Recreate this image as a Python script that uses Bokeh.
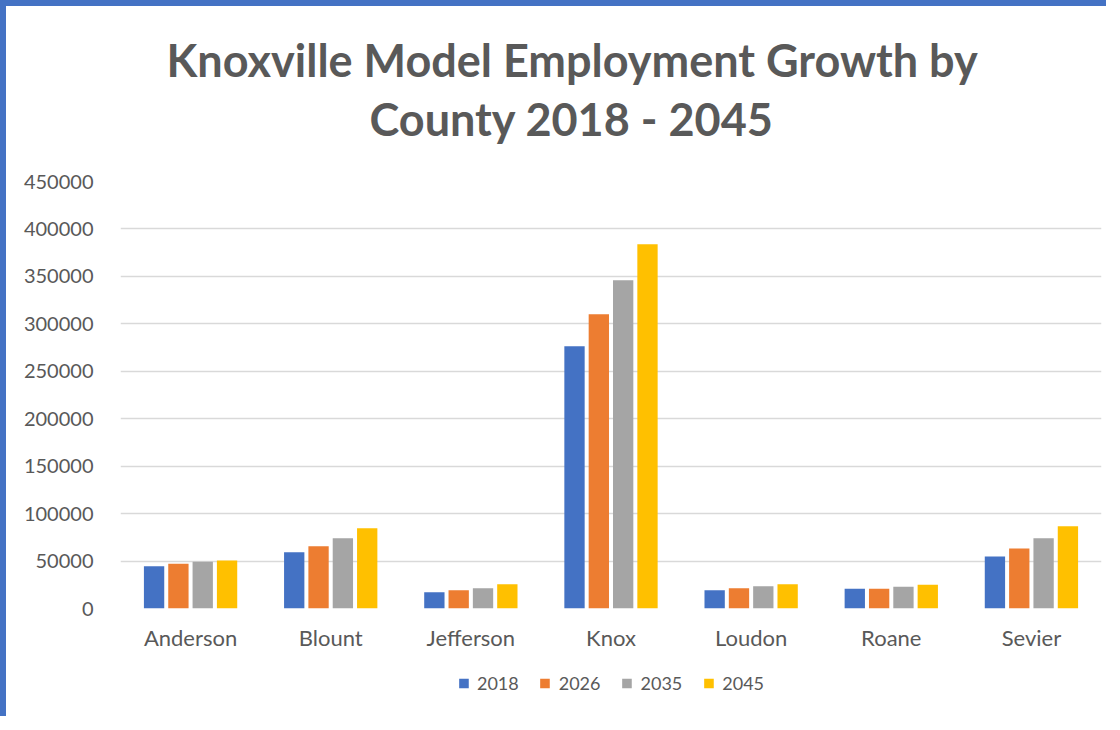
from bokeh.plotting import figure
from bokeh.layouts import column
from bokeh.models import (FactorRange, ColumnDataSource, Legend, LegendItem, Title,
                          SingleIntervalTicker, NumeralTickFormatter)
from bokeh.transform import dodge
from bokeh.embed import file_html
from bokeh.resources import INLINE

counties = ["Anderson", "Blount", "Jefferson", "Knox", "Loudon", "Roane", "Sevier"]
years = ["2018", "2026", "2035", "2045"]
emp_2018 = [44600, 59300, 17200, 276400, 19300, 20800, 54800]
emp_2026 = [47100, 65700, 19300, 310200, 21400, 20800, 63200]
emp_2035 = [49200, 74100, 21400, 346000, 23500, 22900, 74100]
emp_2045 = [50600, 84600, 25600, 384000, 25600, 25000, 86700]
colors = ["#4472C4", "#ED7D31", "#A5A5A5", "#FFC000"]

TEXT = "#595959"
FONT = "Lato"
BLUE_EDGE = "6px solid #4472C4"
W = 1106
H1, H2 = 649, 67

source = ColumnDataSource(dict(county=counties, y2018=emp_2018, y2026=emp_2026,
                               y2035=emp_2035, y2045=emp_2045))
fields = ["y2018", "y2026", "y2035", "y2045"]
slot = 0.1736
offsets = [-1.5 * slot, -0.5 * slot, 0.5 * slot, 1.5 * slot]

# ---------------- main chart ----------------
p = figure(x_range=FactorRange(*counties), y_range=(0, 450000),
           width=W, height=H1, output_backend="svg", toolbar_location=None,
           min_border_left=114, min_border_right=11, min_border_top=175,
           min_border_bottom=47)
p.background_fill_color = "white"
p.border_fill_color = "white"
p.outline_line_color = None
p.styles = {"border-left": BLUE_EDGE, "border-top": BLUE_EDGE}

for fld, off, col in zip(fields, offsets, colors):
    p.vbar(x=dodge("county", off, range=p.x_range), top=fld, width=0.145,
           source=source, fill_color=col, line_color=None)

p.yaxis.ticker = SingleIntervalTicker(interval=50000)
p.yaxis.formatter = NumeralTickFormatter(format="0")
for ax in (p.xaxis, p.yaxis):
    ax.axis_line_color = None
    ax.major_tick_line_color = None
    ax.minor_tick_line_color = None
    ax.major_label_text_font = FONT
    ax.major_label_text_color = TEXT
p.yaxis.major_label_text_font_size = "20px"
p.xaxis.major_label_text_font_size = "22px"
p.yaxis.major_label_standoff = 21
p.xaxis.major_label_standoff = 9
p.xgrid.grid_line_color = None
p.ygrid.grid_line_color = "#D9D9D9"
p.ygrid.grid_line_width = 1.5

# titles: stacked outward from the frame (spacer first)
spacer = Title(text=" ", text_font_size="10px", standoff=22)
t2 = Title(text="County 2018 - 2045", align="left", offset=249, text_font=FONT,
           text_font_size="45px", text_font_style="bold", text_color=TEXT,
           standoff=2)
t1 = Title(text="Knoxville Model Employment Growth by", align="left", offset=46,
           text_font=FONT, text_font_size="45px", text_font_style="bold",
           text_color=TEXT, standoff=3)
p.add_layout(spacer, "above")
p.add_layout(t2, "above")
p.add_layout(t1, "above")

# ---------------- legend strip ----------------
# same series, drawn in a y-window above the data so only the legend shows
p2 = figure(x_range=FactorRange(*counties), y_range=(500000, 600000),
            x_axis_type=None, y_axis_type=None, width=W, height=H2,
            output_backend="svg", toolbar_location=None,
            min_border_left=28, min_border_right=0, min_border_top=0,
            min_border_bottom=0)
p2.grid.grid_line_color = None
p2.outline_line_color = None
p2.background_fill_color = "white"
p2.border_fill_color = "white"
p2.styles = {"border-left": BLUE_EDGE}

items = []
for yr, fld, off, col in zip(years, fields, offsets, colors):
    r = p2.vbar(x=dodge("county", off, range=p2.x_range), top=fld, width=0.145,
                source=source, fill_color=col, line_color=None)
    items.append(LegendItem(label=yr, renderers=[r]))

legend = Legend(items=items, orientation="horizontal", location="center",
                label_text_font=FONT, label_text_font_size="18px",
                label_text_color=TEXT, glyph_width=12, glyph_height=12,
                label_standoff=8, spacing=20, border_line_color=None,
                background_fill_alpha=0, margin=0, padding=10)
p2.add_layout(legend, "center")

layout = column(p, p2, spacing=0)
open("out.html", "w").write(file_html(layout, INLINE))
